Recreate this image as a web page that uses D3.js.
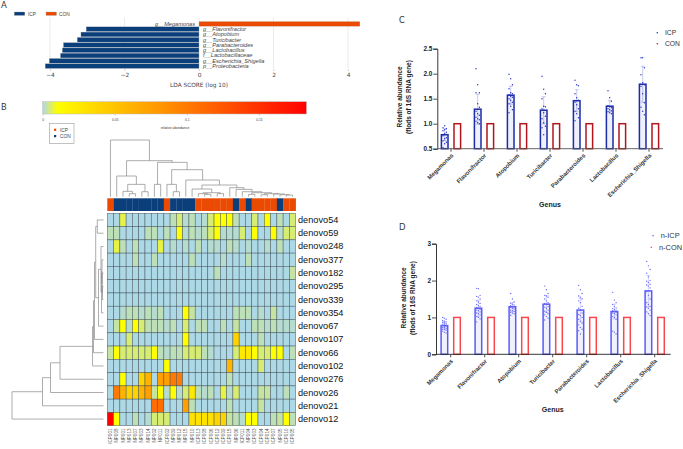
<!DOCTYPE html>
<html>
<head>
<meta charset="utf-8">
<style>
  html, body { margin: 0; padding: 0; background: #fff; }
  svg { display: block; font-family: 'Liberation Sans', Arial, sans-serif; }
</style>
<script src="https://cdn.jsdelivr.net/npm/d3@7"></script>
</head>
<body>
<div id="chart"></div>
<script>
// ── Panel A data: LDA scores ─────────────────────────────────────
const ldaTaxa = ['g__Megamonas', 'g__Flavonifractor', 'g__Atopobium', 'g__Turicibacter',
  'g__Parabacteroides', 'g__Lactobacillus', 'f__Lactobacillaceae', 'g__Escherichia_Shigella', 'p__Proteobacteria'];
const ldaScores = [4.32, -3.03, -3.17, -3.27, -3.64, -3.67, -3.72, -4.02, -4.13];
const ldaTicks = [-4, -2, 0, 2, 4];

// ── Panel B data: heatmap ────────────────────────────────────────
const samples = ['ICP001', 'NP008', 'NP001', 'NP013', 'NP007', 'NP003', 'NP014', 'NP002', 'NP011', 'ICP002',
  'NP009', 'NP012', 'NP015', 'NP010', 'ICP013', 'ICP008', 'ICP006', 'ICP012', 'ICP009', 'ICP015',
  'NP006', 'ICP011', 'NP004', 'ICP003', 'ICP004', 'ICP014', 'ICP007', 'NP005', 'ICP010', 'ICP005'];
const otus = ['denovo54', 'denovo59', 'denovo248', 'denovo377', 'denovo182', 'denovo295', 'denovo339', 'denovo354',
  'denovo67', 'denovo107', 'denovo66', 'denovo102', 'denovo276', 'denovo26', 'denovo21', 'denovo12'];
const abundance = [
  [0, 0, .007, 0, 0, 0, 0, 0, 0, 0, .002, .005, .001, .002, 0, .001, .005, .01, .01, .01, .002, 0, 0, .005, 0, .01, 0, .002, 0, .005],
  [.002, .002, 0, 0, 0, 0, .002, .002, 0, .002, 0, .01, .001, .002, .001, .002, .005, .01, .001, .001, .001, .005, 0, .01, 0, 0, .01, .001, .005, .005],
  [0, .007, .002, 0, .002, 0, 0, 0, .007, 0, .001, 0, .001, 0, .002, 0, .001, .001, 0, .002, .001, 0, .001, 0, 0, .001, 0, .002, 0, 0],
  [0, 0, 0, 0, .002, 0, 0, .002, 0, 0, 0, 0, 0, .002, 0, 0, 0, 0, .001, 0, 0, 0, .002, 0, 0, 0, 0, 0, 0, 0],
  [0, 0, 0, 0, 0, 0, 0, 0, 0, 0, 0, 0, 0, 0, 0, 0, 0, .002, 0, 0, 0, 0, 0, 0, 0, 0, 0, 0, 0, .003],
  [0, 0, 0, 0, 0, 0, 0, 0, 0, 0, 0, 0, 0, 0, 0, 0, 0, 0, 0, 0, 0, 0, 0, 0, 0, 0, 0, 0, 0, 0],
  [0, 0, 0, 0, 0, 0, 0, 0, 0, 0, 0, 0, 0, 0, 0, 0, 0, 0, 0, 0, 0, 0, 0, 0, 0, 0, 0, 0, 0, 0],
  [0, 0, .001, .002, .002, .001, .002, .001, .002, 0, 0, 0, .01, .003, 0, 0, 0, 0, 0, 0, .002, .002, .002, 0, .001, 0, .003, 0, 0, 0],
  [0, .003, .01, .001, .01, .005, .002, .002, .002, .001, .002, 0, .005, 0, .002, .002, 0, 0, .002, 0, .003, 0, 0, .002, .002, .001, .002, .001, .001, .001],
  [0, 0, 0, .005, 0, 0, 0, 0, 0, 0, 0, 0, .01, 0, 0, 0, 0, 0, 0, 0, .04, 0, 0, 0, .002, 0, 0, 0, 0, 0],
  [.003, .01, .005, .005, .005, .005, .005, .01, .002, .001, .002, .002, .005, .005, .005, .002, .001, 0, 0, 0, .005, .025, .025, .01, .005, .005, .01, .01, 0, .002],
  [0, 0, 0, 0, 0, 0, 0, 0, 0, .01, 0, 0, 0, 0, 0, 0, 0, 0, 0, .06, 0, 0, 0, 0, .005, 0, 0, 0, 0, 0],
  [0, 0, .01, 0, 0, .04, .06, 0, .075, .075, .1, .1, 0, 0, 0, 0, 0, 0, 0, .002, 0, 0, 0, 0, 0, 0, 0, 0, 0, 0],
  [0, .1, .06, .04, .04, .06, .075, .003, .012, .001, .01, .001, .005, .025, .002, .001, .002, 0, .007, .001, .005, 0, 0, 0, .003, .003, 0, 0, .002, 0],
  [0, 0, 0, 0, 0, 0, 0, .11, .11, 0, 0, 0, .075, .002, 0, 0, 0, 0, 0, .002, 0, 0, 0, 0, .003, 0, 0, 0, 0, 0],
  [.183, .01, 0, 0, .002, 0, .001, .005, .005, .005, 0, 0, 0, .03, .03, .03, .03, .04, .04, .003, .002, .001, .01, .01, 0, 0, .002, .003, .01, .002],
];
const sampleGroup = samples.map(s => s.startsWith('ICP') ? 'ICP' : 'CON');
const scaleTicks = [0, 0.05, 0.1, 0.15];
// nested merges: [height, childA, childB], a number is a leaf index
const colTree = [170, 0, [108, [62, 1, [37, [16, 2, [9, 3, 4]], [15, 5, 6]]],
  [103, [37, 7, 8], [81, [37, 9, [15, 10, 11]], [50, 12, [35,
    [23, 13, [12, [9, 14, [7, 15, 16]], [9, 17, 18]]],
    [27, 19, [22, 20, [15, 21, [12, [7, 22, 23], [9, [6, 24, 25], [8, 26, [6, 27, [5, 28, 29]]]]]]]]]]]]]];
const rowTree = [91.5, 15, [61, 14, [53, 13, [43.5, 12, [11, 11, [10, 10, [9, 9, [7.8, [6.2, 0, 1],
  [5, 8, [2.5, 2, [2, 7, [1.5, 3, [1.2, 4, [1, 5, 6]]]]]]]]]]]]]];

// ── Panels C and D data: fold changes ────────────────────────────
const genera = ['Megamonas', 'Flavonifractor', 'Atopobium', 'Turicibacter', 'Parabacteroides', 'Lactobacillus', 'Escherichia_Shigella'];
const icpMeans = [0.78, 1.29, 1.57, 1.27, 1.46, 1.35, 1.79];
const icpSd = [0.12, 0.30, 0.18, 0.27, 0.22, 0.11, 0.36];
const conMeans = [1, 1, 1, 1, 1, 1, 1];
const icpPoints = [
  [.52, .6, .63, .66, .7, .72, .76, .8, .83, .86, .88, .9, .92, .96],
  [2.1, 1.78, 1.62, 1.62, 1.4, 1.33, 1.25, 1.2, 1.17, 1.13, 1.1, 1.08, 1.05, 1.02, 1.0],
  [1.99, 1.9, 1.78, 1.7, 1.62, 1.6, 1.58, 1.55, 1.53, 1.5, 1.47, 1.43, 1.4, 1.35, 1.28, 1.22],
  [1.95, 1.69, 1.6, 1.5, 1.35, 1.34, 1.3, 1.22, 1.15, 1.1, 1.02, .95, .92, .78],
  [1.87, 1.78, 1.76, 1.6, 1.52, 1.47, 1.43, 1.38, 1.3, 1.25, 1.2, 1.12, 1.06],
  [1.66, 1.52, 1.45, 1.36, 1.34, 1.32, 1.3, 1.28, 1.26, 1.24, 1.22, 1.2],
  [2.32, 2.32, 2.12, 1.98, 1.82, 1.78, 1.75, 1.6, 1.42, 1.33, 1.25, 1.18],
];
const nIcpMeans = [0.78, 1.25, 1.29, 1.36, 1.2, 1.16, 1.72];
const nIcpSd = [0.10, 0.22, 0.12, 0.23, 0.32, 0.20, 0.42];
const nConMeans = [1, 1, 1, 1, 1, 1, 1];
const nIcpPoints = [
  [1.0, .98, .95, .92, .9, .88, .87, .85, .84, .82, .8, .79, .78, .76, .75, .73, .72, .7, .68, .67, .65, .63, .6, .58],
  [1.79, 1.78, 1.6, 1.57, 1.55, 1.5, 1.45, 1.42, 1.38, 1.35, 1.32, 1.3, 1.27, 1.25, 1.22, 1.2, 1.18, 1.15, 1.12, 1.1, 1.07, 1.03, 1.0, .96, .88],
  [1.65, 1.5, 1.42, 1.38, 1.36, 1.34, 1.32, 1.3, 1.28, 1.27, 1.25, 1.23, 1.2, 1.18, 1.16, 1.14, 1.12, 1.1, 1.06],
  [1.85, 1.75, 1.65, 1.6, 1.58, 1.55, 1.5, 1.45, 1.4, 1.38, 1.35, 1.3, 1.28, 1.25, 1.2, 1.17, 1.14, 1.1, 1.07, 1.03, .98, .93],
  [1.87, 1.75, 1.65, 1.58, 1.55, 1.5, 1.45, 1.4, 1.3, 1.25, 1.2, 1.12, 1.08, 1.05, 1.0, .95, .9, .85, .8, .73, .68, .64, .55],
  [1.68, 1.47, 1.4, 1.35, 1.3, 1.26, 1.24, 1.22, 1.2, 1.18, 1.16, 1.14, 1.12, 1.1, 1.07, 1.03, 1.0, .95, .63, .6, .55],
  [2.52, 2.4, 2.3, 2.2, 2.1, 2.0, 1.98, 1.95, 1.9, 1.88, 1.85, 1.8, 1.7, 1.6, 1.5, 1.4, 1.35, 1.3, 1.28, 1.25, 1.2, 1.15, 1.1, 1.05],
];

const svg = d3.select('#chart').append('svg').attr('width', 683).attr('height', 449);
const NAVY = '#0b3f7c', ORANGE = '#ea4a02';

// ── Panel letters ────────────────────────────────────────────────
[['A', 1, 8], ['B', 1, 110], ['C', 399, 23], ['D', 399, 230]].forEach(([t, x, y]) => {
  svg.append('text').attr('x', x).attr('y', y).attr('font-family', 'Lato').attr('font-size', 8.5)
    .attr('fill', '#333').text(t);
});

// ── Panel A: LDA bars ────────────────────────────────────────────
const ldaX = d3.scaleLinear().domain([-4, 4]).range([50, 348]);
const ldaY = d3.scaleBand().domain(ldaTaxa).range([21, 69]).padding(0.1);
const gA = svg.append('g');

[['ICP', NAVY, 14.3, 28], ['CON', ORANGE, 46, 59]].forEach(([t, c, x, tx]) => {
  gA.append('rect').attr('x', x).attr('y', 12).attr('width', 10.5).attr('height', 3.4)
    .attr('fill', c).attr('stroke', '#999').attr('stroke-width', 0.3);
  gA.append('text').attr('x', tx).attr('y', 15.6).attr('font-size', 4.8).attr('fill', '#444').text(t);
});

gA.selectAll('line.grid').data(ldaTicks).join('line').attr('class', 'grid')
  .attr('x1', d => ldaX(d)).attr('x2', d => ldaX(d)).attr('y1', 18).attr('y2', 69.5)
  .attr('stroke', '#999').attr('stroke-width', 0.4).attr('stroke-dasharray', '0.8,0.8');

gA.selectAll('rect.bar').data(ldaScores).join('rect').attr('class', 'bar')
  .attr('x', d => ldaX(Math.min(0, d)))
  .attr('width', d => Math.abs(ldaX(d) - ldaX(0)))
  .attr('y', (d, i) => ldaY(ldaTaxa[i]))
  .attr('height', ldaY.bandwidth())
  .attr('fill', d => d < 0 ? NAVY : ORANGE)
  .attr('stroke', '#bbb').attr('stroke-width', 0.3);

gA.selectAll('text.taxon').data(ldaTaxa).join('text').attr('class', 'taxon')
  .attr('x', (d, i) => ldaScores[i] < 0 ? ldaX(0) + 4 : ldaX(0) - 4)
  .attr('y', d => ldaY(d) + ldaY.bandwidth() / 2 + 1.8)
  .attr('text-anchor', (d, i) => ldaScores[i] < 0 ? 'start' : 'end')
  .attr('font-size', 5.6).attr('font-style', 'italic').attr('fill', '#444')
  .text(d => d);

const axA = gA.append('g').attr('transform', 'translate(0,69.5)')
  .call(d3.axisBottom(ldaX).tickValues(ldaTicks).tickSize(1.5).tickPadding(1.5).tickFormat(d3.format('d')));
axA.select('.domain').remove();
axA.selectAll('line').attr('stroke', '#666').attr('stroke-width', 0.3);
axA.selectAll('text').attr('font-size', 5.8).attr('fill', '#444').attr('font-family', 'DejaVu Sans');
gA.append('text').attr('x', 199).attr('y', 86.5).attr('text-anchor', 'middle')
  .attr('font-size', 5.8).attr('font-family', 'DejaVu Sans').attr('fill', '#444').text('LDA SCORE (log 10)');

// ── Panel B: colour key ──────────────────────────────────────────
const heatColor = d3.scaleLinear().domain([0, 0.01, 0.183]).range(['#add8e6', '#ffff00', '#ff0000']);
const keyX = d3.scaleLinear().domain([0, 0.183]).range([42.7, 306.5]);

const grad = svg.append('defs').append('linearGradient').attr('id', 'key-grad');
d3.range(0, 1.001, 0.02).forEach(t => {
  grad.append('stop').attr('offset', t).attr('stop-color', heatColor(t * 0.183));
});
svg.append('rect').attr('x', keyX(0)).attr('y', 101.7).attr('width', keyX(0.183) - keyX(0)).attr('height', 12.3)
  .attr('fill', 'url(#key-grad)').attr('stroke', '#bbb').attr('stroke-width', 0.5);
const axKey = svg.append('g').attr('transform', 'translate(0,114)')
  .call(d3.axisBottom(keyX).tickValues(scaleTicks).tickSize(1.5).tickPadding(3).tickFormat(d => d));
axKey.select('.domain').remove();
axKey.selectAll('line').attr('stroke', '#777').attr('stroke-width', 0.3);
axKey.selectAll('text').attr('font-size', 3.4).attr('fill', '#444');
svg.append('text').attr('x', 175).attr('y', 128.5).attr('text-anchor', 'middle')
  .attr('font-size', 3.4).attr('fill', '#333').text('relative abundance');

svg.append('rect').attr('x', 49.5).attr('y', 123.5).attr('width', 24.5).attr('height', 20)
  .attr('fill', 'none').attr('stroke', '#999').attr('stroke-width', 0.6);
[['ICP', ORANGE, 129.7], ['CON', NAVY, 136]].forEach(([t, c, y]) => {
  svg.append('rect').attr('x', 54).attr('y', y - 1).attr('width', 2.2).attr('height', 2.2).attr('fill', c);
  svg.append('text').attr('x', 60).attr('y', y + 1.8).attr('font-size', 4.8).attr('fill', '#444').text(t);
});

// ── Panel B: heatmap ─────────────────────────────────────────────
const colX = d3.scaleBand().domain(samples).range([107.3, 295.7]);
const rowY = d3.scaleBand().domain(otus).range([213.3, 425.7]);
const gB = svg.append('g');

gB.selectAll('rect.anno').data(samples).join('rect').attr('class', 'anno')
  .attr('x', d => colX(d)).attr('y', 198.3).attr('width', colX.bandwidth() + 0.2).attr('height', 12.7)
  .attr('fill', (d, i) => sampleGroup[i] === 'ICP' ? ORANGE : NAVY);

abundance.forEach((row, r) => {
  gB.selectAll(`rect.r${r}`).data(row).join('rect').attr('class', `r${r}`)
    .attr('x', (d, c) => colX(samples[c]))
    .attr('y', rowY(otus[r]))
    .attr('width', colX.bandwidth())
    .attr('height', rowY.bandwidth())
    .attr('fill', d => heatColor(d))
    .attr('stroke', '#3c4a50').attr('stroke-width', 0.55).attr('stroke-opacity', 0.8);
});

gB.selectAll('text.otu').data(otus).join('text').attr('class', 'otu')
  .attr('x', 298).attr('y', d => rowY(d) + rowY.bandwidth() / 2 + 3)
  .attr('font-size', 9.2).attr('fill', '#111').text(d => d);

gB.selectAll('text.sample').data(samples).join('text').attr('class', 'sample')
  .attr('transform', d => `translate(${colX(d) + colX.bandwidth() / 2 + 1.6},428.5) rotate(-90)`)
  .attr('text-anchor', 'end').attr('font-size', 4.6).attr('fill', '#555').text(d => d);

// ── Panel B: dendrograms ─────────────────────────────────────────
// walks a nested merge and hands back the elbow segments of each node
function treeSegments(node, leafPos, out) {
  if (typeof node === 'number') return { pos: leafPos(node), h: 0 };
  const a = treeSegments(node[1], leafPos, out);
  const b = treeSegments(node[2], leafPos, out);
  out.push({ a, b, h: node[0] });
  return { pos: (a.pos + b.pos) / 2, h: node[0] };
}

const colH = d3.scaleLinear().domain([0, 170]).range([196.7, 140]);
const colSegs = [];
treeSegments(colTree, i => colX(samples[i]) + colX.bandwidth() / 2, colSegs);
gB.selectAll('path.coltree').data(colSegs).join('path').attr('class', 'coltree')
  .attr('d', s => `M${s.a.pos},${colH(s.a.h)}V${colH(s.h)}H${s.b.pos}V${colH(s.b.h)}`)
  .attr('fill', 'none').attr('stroke', '#8a8a8a').attr('stroke-width', 0.7);

const rowH = d3.scaleLinear().domain([0, 91.5]).range([103.5, 12]);
const rowSegs = [];
treeSegments(rowTree, i => rowY(otus[i]) + rowY.bandwidth() / 2, rowSegs);
gB.selectAll('path.rowtree').data(rowSegs).join('path').attr('class', 'rowtree')
  .attr('d', s => `M${rowH(s.a.h)},${s.a.pos}H${rowH(s.h)}V${s.b.pos}H${rowH(s.b.h)}`)
  .attr('fill', 'none').attr('stroke', '#8a8a8a').attr('stroke-width', 0.7);

// ── Panels C and D: bars with points ─────────────────────────────
function barPanel(o) {
  const g = svg.append('g');
  const x = d3.scaleBand().domain(genera).range([o.x0 - o.step / 2, o.x0 + o.step * 6.5]);
  const side = d3.scalePoint().domain(['case', 'ctrl']).range([o.step / 2 - 6.3, o.step / 2 + 6.3]);
  const y = d3.scaleLinear().domain(o.domain).range(o.yRange);
  const barW = 6.6;

  // bars
  const bar = (means, key, color) => g.selectAll(`rect.${key}`).data(means).join('rect').attr('class', key)
    .attr('x', (d, i) => x(genera[i]) + side(key) - barW / 2)
    .attr('y', d => y(d))
    .attr('width', barW)
    .attr('height', d => y(o.domain[0]) - y(d))
    .attr('fill', key === 'case' ? o.caseFill : '#fff')
    .attr('stroke', color).attr('stroke-width', 1.5);
  bar(o.means, 'case', o.caseColor);
  bar(o.ctrl, 'ctrl', o.ctrlColor);

  // error bars
  g.selectAll('path.err').data(o.sd).join('path').attr('class', 'err')
    .attr('d', (d, i) => {
      const c = x(genera[i]) + side('case');
      return `M${c - 2},${y(o.means[i] + d)}H${c + 2}M${c},${y(o.means[i] + d)}V${y(o.means[i] - d)}M${c - 2},${y(o.means[i] - d)}H${c + 2}`;
    })
    .attr('fill', 'none').attr('stroke', o.caseColor).attr('stroke-width', 0.35).attr('stroke-opacity', 0.7);

  // points
  o.points.forEach((vals, i) => {
    g.selectAll(`circle.p${i}`).data(vals).join('circle').attr('class', `p${i}`)
      .attr('cx', (d, k) => x(genera[i]) + side('case') + ((k % 3) - 1) * 1.7)
      .attr('cy', d => y(d))
      .attr('r', 0.68)
      .attr('fill', o.dotColor);
  });

  // axes
  const axY = g.append('g').attr('transform', `translate(${o.axisX},0)`)
    .call(d3.axisLeft(y).tickValues(o.ticks).tickSize(4).tickPadding(1).tickFormat(o.tickFormat));
  axY.select('.domain').attr('stroke', '#222').attr('stroke-width', 0.9);
  axY.selectAll('line').attr('stroke', '#222').attr('stroke-width', 0.8);
  axY.selectAll('text').attr('font-size', 6.4).attr('font-weight', 'bold').attr('fill', '#222');

  const axX = g.append('g').attr('transform', `translate(0,${y(o.domain[0])})`)
    .call(d3.axisBottom(x).tickSize(3).tickSizeOuter(0));
  axX.select('.domain').attr('d', `M${o.axisX},0H${o.axisEnd}`).attr('stroke', o.xLine).attr('stroke-width', 0.9);
  axX.selectAll('line').attr('stroke', '#222').attr('stroke-width', 0.8);
  axX.selectAll('text')
    .attr('font-size', 5.9).attr('font-weight', 'bold').attr('fill', '#333')
    .attr('text-anchor', 'end').attr('dy', 0)
    .attr('transform', 'translate(-1.5,3) rotate(-45)');

  // titles
  g.append('text').attr('transform', `translate(${o.titleX},${o.titleY}) rotate(-90)`)
    .attr('text-anchor', 'middle').attr('font-size', 6.5).attr('font-weight', 'bold').attr('fill', '#222')
    .text('Relative abundance');
  g.append('text').attr('transform', `translate(${o.titleX + 9},${o.titleY}) rotate(-90)`)
    .attr('text-anchor', 'middle').attr('font-size', 6.5).attr('font-weight', 'bold').attr('fill', '#222')
    .text('(flods of 16S RNA gene)');
  g.append('text').attr('x', o.genusX).attr('y', o.genusY).attr('text-anchor', 'middle')
    .attr('font-size', 7).attr('font-weight', 'bold').attr('fill', '#222').text('Genus');

  // legend
  o.legend.forEach(([t, c, dx, tx, ly]) => {
    g.append('circle').attr('cx', dx).attr('cy', ly).attr('r', 0.8).attr('fill', c);
    g.append('text').attr('x', tx).attr('y', ly + 2.4).attr('font-size', o.legendSize).attr('fill', '#333').text(t);
  });
}

barPanel({
  x0: 451, step: 33, domain: [0.5, 2.5], yRange: [148.7, 48.7], ticks: [0.5, 1, 1.5, 2, 2.5],
  tickFormat: d3.format('.1f'), axisX: 437.3, axisEnd: 663,
  means: icpMeans, sd: icpSd, ctrl: conMeans, points: icpPoints,
  caseColor: '#1c2ba8', caseFill: '#eef0fb', ctrlColor: '#b2161c', dotColor: '#2230c8', xLine: '#555',
  titleX: 402, titleY: 97, genusX: 550, genusY: 206.5, legendSize: 6.7,
  legend: [['ICP', '#2230c8', 657.3, 665, 32.7], ['CON', '#b2161c', 657.3, 665, 43.7]],
});

barPanel({
  x0: 450.7, step: 34, domain: [0, 3], yRange: [354.3, 243.7], ticks: [0, 1, 2, 3],
  tickFormat: d3.format('d'), axisX: 436, axisEnd: 670.7,
  means: nIcpMeans, sd: nIcpSd, ctrl: nConMeans, points: nIcpPoints,
  caseColor: '#5a5cf6', caseFill: '#f1f1fe', ctrlColor: '#f9474b', dotColor: '#6668f5', xLine: '#222',
  titleX: 405.5, titleY: 298, genusX: 552.7, genusY: 411.5, legendSize: 7.4,
  legend: [['n-ICP', '#6668f5', 653, 660.7, 235.7], ['n-CON', '#f9474b', 651.3, 659, 247.3]],
});
</script>
</body>
</html>
